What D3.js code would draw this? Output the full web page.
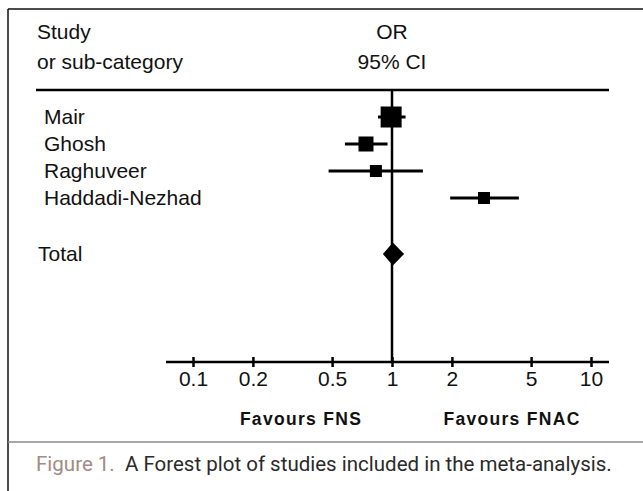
<!DOCTYPE html>
<html>
<head>
<meta charset="utf-8">
<script src="https://cdn.jsdelivr.net/npm/d3@7"></script>
<style>
  body { margin: 0; background: #fff; }
  svg text { font-family: "Liberation Sans", Arial, sans-serif; fill: #111; }
</style>
</head>
<body>
<svg id="chart" width="643" height="491"></svg>
<script>
// Study data (odds ratio with 95% CI)
const studies = ["Mair", "Ghosh", "Raghuveer", "Haddadi-Nezhad"];
const orValues = [0.99, 0.74, 0.83, 2.9];
const ciLower = [0.85, 0.58, 0.48, 1.96];
const ciUpper = [1.17, 0.95, 1.43, 4.34];
const boxSizes = [21, 15, 12, 12]; // relative study weight shown as box size
const total = { label: "Total", or: 1.01, lo: 0.9, hi: 1.15 };
const tickValues = [0.1, 0.2, 0.5, 1, 2, 5, 10];

const svg = d3.select("#chart");
const fs = 21;

// Outer frame (top + left) and caption separator
svg.append("line").attr("x1", 8).attr("x2", 643).attr("y1", 9).attr("y2", 9)
    .attr("stroke", "#111").attr("stroke-width", 1.5);
svg.append("line").attr("x1", 8).attr("x2", 8).attr("y1", 9).attr("y2", 491)
    .attr("stroke", "#111").attr("stroke-width", 1.5);
svg.append("line").attr("x1", 8).attr("x2", 643).attr("y1", 442).attr("y2", 442)
    .attr("stroke", "#8a8a8a").attr("stroke-width", 1.5);

// Scales
const x = d3.scaleLog().domain([0.1, 10]).range([193, 591]);
const y = d3.scalePoint().domain(studies).range([117, 198]);
const totalY = 254;
const axisY = 362;

// Header
svg.append("text").attr("x", 37).attr("y", 39).attr("font-size", fs).text("Study");
svg.append("text").attr("x", 37).attr("y", 69).attr("font-size", fs).text("or sub-category");
svg.append("text").attr("x", x(1)).attr("y", 39).attr("font-size", fs)
    .attr("text-anchor", "middle").text("OR");
svg.append("text").attr("x", x(1)).attr("y", 69).attr("font-size", fs)
    .attr("text-anchor", "middle").text("95% CI");
svg.append("line").attr("x1", 36).attr("x2", 609).attr("y1", 90).attr("y2", 90)
    .attr("stroke", "#000").attr("stroke-width", 2.5);

// Line of no effect
svg.append("line").attr("x1", x(1)).attr("x2", x(1)).attr("y1", 90).attr("y2", axisY)
    .attr("stroke", "#000").attr("stroke-width", 2.5);

// Study labels
svg.selectAll(".study-label").data(studies).enter().append("text")
    .attr("class", "study-label")
    .attr("x", 44).attr("y", d => y(d)).attr("dy", "0.35em")
    .attr("font-size", fs).text(d => d);
svg.append("text").attr("x", 38).attr("y", totalY).attr("dy", "0.35em")
    .attr("font-size", fs).text(total.label);

// CI lines and boxes
const rows = studies.map((s, i) => ({ s, or: orValues[i], lo: ciLower[i], hi: ciUpper[i], size: boxSizes[i] }));
svg.selectAll(".ci").data(rows).enter().append("line")
    .attr("class", "ci")
    .attr("x1", d => x(d.lo)).attr("x2", d => x(d.hi))
    .attr("y1", d => y(d.s)).attr("y2", d => y(d.s))
    .attr("stroke", "#000").attr("stroke-width", 3);
svg.selectAll(".box").data(rows).enter().append("rect")
    .attr("class", "box")
    .attr("x", d => x(d.or) - d.size / 2).attr("y", d => y(d.s) - d.size / 2)
    .attr("width", d => d.size).attr("height", d => d.size)
    .attr("fill", "#000");

// Pooled diamond
const dh = 11.5;
svg.append("path")
    .attr("d", `M${x(total.lo)},${totalY} L${x(total.or)},${totalY - dh} L${x(total.hi)},${totalY} L${x(total.or)},${totalY + dh} Z`)
    .attr("fill", "#000");

// Axis
svg.append("line").attr("x1", 166).attr("x2", 609).attr("y1", axisY).attr("y2", axisY)
    .attr("stroke", "#000").attr("stroke-width", 2.5);
const axis = svg.append("g").attr("transform", `translate(0,${axisY})`)
    .call(d3.axisBottom(x).tickValues(tickValues).tickFormat(d3.format("~g")).tickSize(5).tickSizeOuter(0));
axis.select(".domain").remove();
axis.selectAll(".tick line").attr("y1", -5).attr("y2", 5)
    .attr("stroke", "#000").attr("stroke-width", 2.5);
axis.selectAll(".tick text").attr("y", 24).attr("dy", 0)
    .attr("font-size", fs).attr("font-family", "Liberation Sans, Arial, sans-serif").attr("fill", "#222");

// Favours labels
svg.append("text").attr("x", 301).attr("y", 425).attr("text-anchor", "middle")
    .attr("font-size", 17.5).attr("font-weight", "bold").attr("letter-spacing", 1.3)
    .text("Favours FNS");
svg.append("text").attr("x", 512).attr("y", 425).attr("text-anchor", "middle")
    .attr("font-size", 17.5).attr("font-weight", "bold").attr("letter-spacing", 1.3)
    .text("Favours FNAC");

// Caption
const cap = svg.append("text").attr("x", 36).attr("y", 471)
    .attr("font-size", 20.5).style("font-family", "Roboto, sans-serif");
cap.append("tspan").style("fill", "#a08c84").text("Figure 1.");
cap.append("tspan").style("fill", "#2a2a2a").text("\u00a0 A Forest plot of studies included in the meta-analysis.");
</script>
</body>
</html>
